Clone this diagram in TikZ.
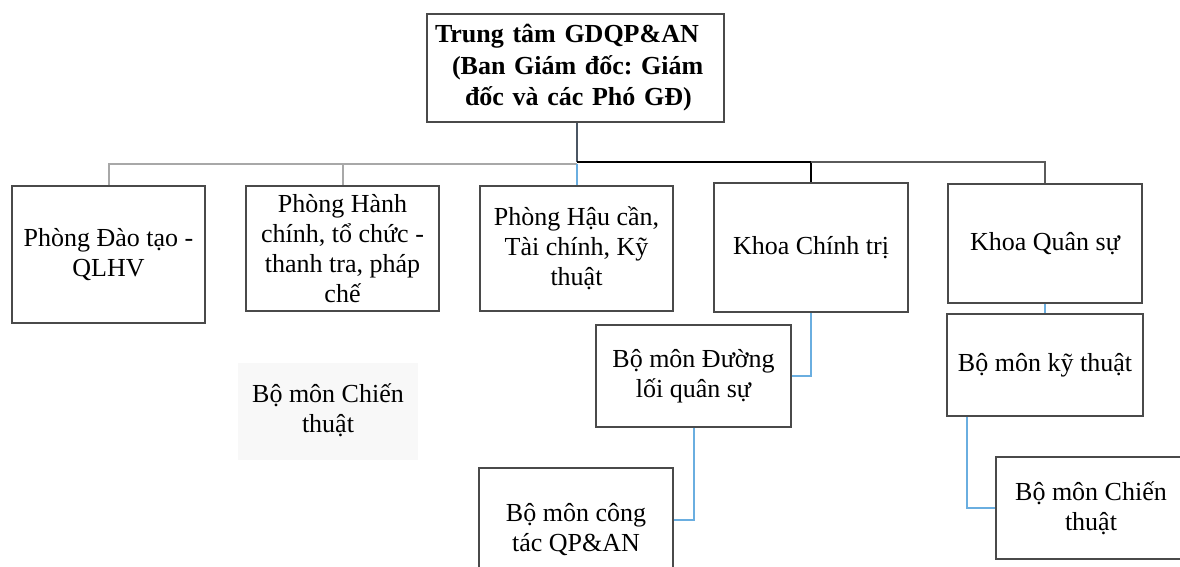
\documentclass[tikz,border=0pt]{standalone}
\usepackage{fontspec}
\setmainfont{Liberation Serif}
\frenchspacing
\definecolor{boxline}{HTML}{4A4A4A}
\definecolor{busgray}{HTML}{A8A8A8}
\definecolor{busdark}{HTML}{5A5A5A}
\definecolor{stemcol}{HTML}{4B5663}
\definecolor{blueline}{HTML}{6AAEE0}
\definecolor{ghostbg}{HTML}{F8F8F8}
\begin{document}
\begin{tikzpicture}[x=1pt,y=-1pt,
  unit/.style={draw=boxline,line width=2.8pt,fill=white,align=center,inner sep=0pt,
    font=\fontsize{26}{30}\selectfont},
  plain/.style={align=center,inner sep=0pt,font=\fontsize{26}{30}\selectfont},
  lgray/.style={draw=busgray,line width=2pt},
  dgray/.style={draw=busdark,line width=2pt},
  blk/.style={draw=black,line width=2.5pt},
  stemline/.style={draw=stemcol,line width=2.2pt},
  blue/.style={draw=blueline,line width=2pt}]
\clip (0,0) rectangle (1180,566);
\fill[white] (0,0) rectangle (1180,566);

% ghost background and text
\fill[ghostbg] (238,363) rectangle (418,460);
\node[plain] (ghost) at (328,410) {Bộ môn Chiến\\thuật};

% coordinates of the bus
\coordinate (busL) at (577,164);
\coordinate (busM) at (577,162);
\coordinate (busC) at (811,162);

\node[unit,minimum width=297pt,minimum height=108pt,text width=281pt,align=left,
  font=\fontsize{26}{31.5}\selectfont\bfseries] (top) at (575.5,68)
  {Trung tâm GDQP\&AN\\\hspace*{17pt}(Ban Giám đốc: Giám\\\hspace*{30pt}đốc và các Phó GĐ)};

\node[unit,minimum width=193pt,minimum height=137pt] (b1) at (108.5,254.5) {Phòng Đào tạo -\\QLHV};
\node[unit,minimum width=193pt,minimum height=125pt] (b2) at (342.5,248.5) {Phòng Hành\\chính, tổ chức -\\thanh tra, pháp\\chế};
\node[unit,minimum width=193pt,minimum height=125pt] (b3) at (576.5,248.5) {Phòng Hậu cần,\\Tài chính, Kỹ\\thuật};
\node[unit,minimum width=194pt,minimum height=129pt] (b4) at (811,247.5) {Khoa Chính trị};
\node[unit,minimum width=194pt,minimum height=119pt] (b5) at (1045,243.5) {Khoa Quân sự};
\node[unit,minimum width=195pt,minimum height=102pt] (c1) at (693.5,376) {Bộ môn Đường\\lối quân sự};
\node[unit,minimum width=194pt,minimum height=124pt] (c2) at (576,530) {Bộ môn công\\tác QP\&AN};
\node[unit,minimum width=196pt,minimum height=102pt] (d1) at (1045,365) {Bộ môn kỹ thuật};
\node[unit,minimum width=190pt,minimum height=102pt] (d2) at (1091,508) {Bộ môn Chiến\\thuật};

% connectors
\draw[stemline] (busM |- top.south) -- (busM);
\draw[lgray] (b1.north) |- (busL);
\draw[lgray] (b2.north) |- (busL);
\draw[blk] (busM) -- (busC) -- (b4.north);
\draw[dgray] (busC) -| (b5.north);
\draw[blue] (busL) -- (busL |- b3.north);
\draw[blue] (b4.south) |- (c1.east);
\draw[blue] (c1.south) |- ([yshift=10pt]c2.east);
\draw[blue] (b5.south) -- (d1.north);
\draw[blue] ([xshift=-78pt]d1.south) |- (d2.west);
\end{tikzpicture}
\end{document}
